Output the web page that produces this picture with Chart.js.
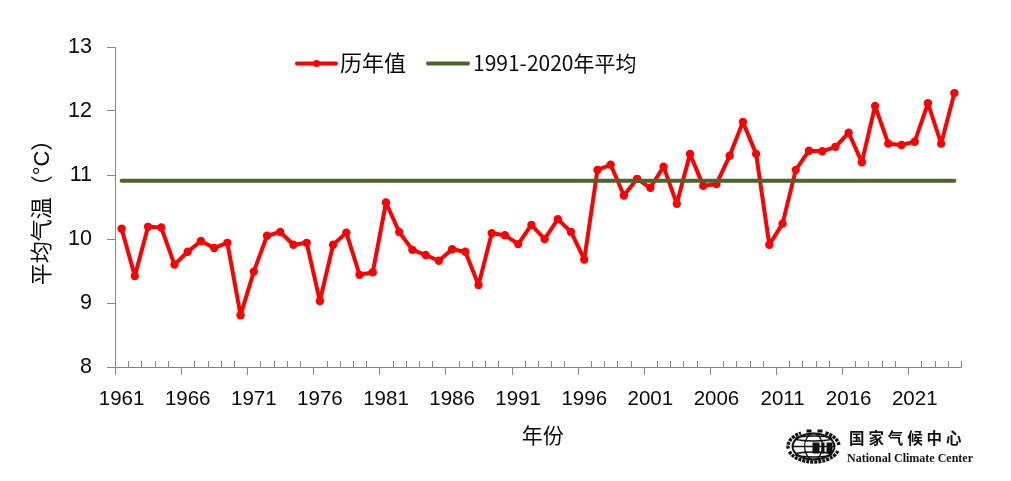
<!DOCTYPE html>
<html>
<head>
<meta charset="utf-8">
<style>
  html, body { margin: 0; padding: 0; background: #fff; }
  #wrap { position: relative; width: 1011px; height: 481px; }
</style>
<script src="https://cdn.jsdelivr.net/npm/chart.js@4/dist/chart.umd.min.js"></script>
</head>
<body>
<div id="wrap"><canvas id="myChart" width="1011" height="481"></canvas></div>
<script>
var years = [1961,1962,1963,1964,1965,1966,1967,1968,1969,1970,1971,1972,1973,1974,1975,1976,
  1977,1978,1979,1980,1981,1982,1983,1984,1985,1986,1987,1988,1989,1990,1991,1992,
  1993,1994,1995,1996,1997,1998,1999,2000,2001,2002,2003,2004,2005,2006,2007,2008,
  2009,2010,2011,2012,2013,2014,2015,2016,2017,2018,2019,2020,2021,2022,2023,2024];
var yearly = [10.16,9.42,10.19,10.18,9.60,9.80,9.97,9.86,9.94,8.81,9.49,10.05,10.11,9.91,9.94,9.03,
  9.91,10.10,9.44,9.48,10.57,10.11,9.83,9.75,9.66,9.84,9.80,9.28,10.09,10.06,9.92,10.22,
  10.00,10.31,10.11,9.68,11.08,11.16,10.68,10.94,10.80,11.13,10.55,11.33,10.83,10.86,11.30,11.83,
  11.33,9.91,10.24,11.08,11.38,11.37,11.44,11.66,11.20,12.08,11.49,11.47,11.52,12.12,11.49,12.28];
var meanValue = 10.91;
var labelYearly = "历年值";
var labelMean = "1991-2020年平均";
var labelX = "  年份";
var labelY = "平均气温（°C）";

var AXIS = "#868686";
var RED = "#ff0000";
var GREEN = "#4f6228";
var INK = "#0a0a0a";
var FONT = '"Liberation Sans", "Noto Sans CJK SC", sans-serif';
var CJK = '"Noto Sans CJK SC", sans-serif';

// short ticks above the axis between categories, long ones below every 5 years
var xTicks = {
  id: "xTicks",
  afterDatasetsDraw: function (chart) {
    var c = chart.ctx, x = chart.scales.x, y0 = chart.chartArea.bottom;
    var step = x.getPixelForValue(1) - x.getPixelForValue(0);
    c.save();
    c.strokeStyle = AXIS;
    c.lineWidth = 1;
    for (var i = 0; i <= years.length; i++) {
      var px = Math.round(x.getPixelForValue(0) + (i - 0.5) * step) + 0.5;
      c.beginPath();
      if (i % 5 === 0) {
        c.moveTo(px, y0);
        c.lineTo(px, y0 + 8);
      } else {
        c.moveTo(px, y0 - 6);
        c.lineTo(px, y0);
      }
      c.stroke();
    }
    c.restore();
  }
};

var keyLegend = {
  id: "keyLegend",
  afterDraw: function (chart) {
    var c = chart.ctx;
    c.save();
    c.lineCap = "round";
    c.lineWidth = 4;
    c.strokeStyle = RED;
    c.beginPath(); c.moveTo(297, 63.5); c.lineTo(336, 63.5); c.stroke();
    c.fillStyle = RED;
    c.beginPath(); c.arc(316.5, 63.5, 3.5, 0, Math.PI * 2); c.fill();
    c.strokeStyle = GREEN;
    c.beginPath(); c.moveTo(428, 63.5); c.lineTo(468, 63.5); c.stroke();
    c.fillStyle = INK;
    c.textBaseline = "middle";
    c.font = "22px " + CJK;
    c.fillText(labelYearly, 340, 63);
    c.font = "21px " + CJK;
    c.fillText(labelMean, 473, 63);
    c.restore();
  }
};

// national climate center mark, bottom right
var centerMark = {
  id: "centerMark",
  afterDraw: function (chart) {
    var c = chart.ctx, cx = 813.5, cy = 446.5;
    c.save();
    c.strokeStyle = "#111";
    c.fillStyle = "#111";
    c.lineWidth = 2;
    c.beginPath(); c.ellipse(cx, cy, 21, 13, 0, 0, Math.PI * 2); c.stroke();
    c.lineWidth = 1.3;
    c.beginPath(); c.ellipse(cx, cy, 9, 13, 0, 0, Math.PI * 2); c.stroke();
    c.beginPath(); c.moveTo(cx - 21, cy); c.lineTo(cx + 21, cy); c.stroke();
    c.beginPath(); c.ellipse(cx, cy - 8, 18, 2.5, 0, 0, Math.PI * 2); c.stroke();
    c.beginPath(); c.ellipse(cx, cy + 8, 18, 2.5, 0, 0, Math.PI * 2); c.stroke();
    c.lineWidth = 3.4;
    c.setLineDash([3, 1]);
    c.beginPath(); c.ellipse(cx, cy, 25.5, 15.5, 0, 0.3, 2.85); c.stroke();
    c.beginPath(); c.ellipse(cx, cy, 25.5, 15.5, 0, 3.0, 4.2); c.stroke();
    c.beginPath(); c.ellipse(cx, cy, 25.5, 15.5, 0, 5.2, 6.2); c.stroke();
    c.setLineDash([]);
    c.fillRect(cx - 1, cy - 4, 7, 11);
    c.fillRect(cx + 8, cy - 4, 3, 11);
    c.fillRect(cx + 13, cy - 4, 6, 11);
    c.fillRect(cx - 7, cy - 17, 5, 3);
    c.fillRect(cx + 4, cy - 17, 5, 3);
    c.font = "bold 15.5px " + CJK;
    c.textBaseline = "middle";
    ["国", "家", "气", "候", "中", "心"].forEach(function (ch, i) {
      c.fillText(ch, 849 + i * 19.4, 438);
    });
    c.font = 'bold 12px "Liberation Serif", serif';
    c.fillText("National Climate Center", 847, 459);
    c.restore();
  }
};

new Chart(document.getElementById("myChart").getContext("2d"), {
  type: "line",
  data: {
    labels: years,
    datasets: [
      {
        label: labelYearly,
        data: yearly,
        borderColor: RED,
        backgroundColor: RED,
        borderWidth: 4,
        borderJoinStyle: "round",
        pointRadius: 4.2,
        pointBackgroundColor: RED,
        pointBorderWidth: 0,
        tension: 0,
        order: 2
      },
      {
        label: labelMean,
        data: years.map(function () { return meanValue; }),
        borderColor: GREEN,
        borderWidth: 4,
        borderCapStyle: "round",
        pointRadius: 0,
        tension: 0,
        order: 1
      }
    ]
  },
  options: {
    responsive: false,
    animation: false,
    layout: { padding: { top: 47, right: 50, left: 0, bottom: 0 } },
    plugins: { legend: { display: false }, tooltip: { enabled: false } },
    scales: {
      x: {
        type: "category",
        offset: true,
        grid: { display: false, drawTicks: false, offset: true },
        border: { color: AXIS, width: 1 },
        ticks: {
          autoSkip: false,
          maxRotation: 0,
          padding: 20,
          color: INK,
          font: { family: FONT, size: 20.5 },
          callback: function (v, i) { return i % 5 === 0 ? years[i] : ""; }
        },
        title: {
          display: true,
          text: labelX,
          color: INK,
          font: { family: CJK, size: 21 },
          padding: { top: 0, bottom: 33 }
        },
        afterFit: function (s) { s.height = 114; s.paddingLeft = 0; s.paddingRight = 0; }
      },
      y: {
        min: 8,
        max: 13,
        grid: { drawOnChartArea: false, drawTicks: true, tickLength: 8, tickColor: AXIS },
        border: { color: AXIS, width: 1 },
        ticks: {
          stepSize: 1,
          padding: 15,
          color: INK,
          font: { family: FONT, size: 21.5 }
        },
        title: {
          display: true,
          text: labelY,
          color: INK,
          font: { family: FONT, size: 22 },
          padding: { top: 30, bottom: 0 }
        },
        afterFit: function (s) { s.width = 115; s.paddingTop = 0; s.paddingBottom = 0; }
      }
    }
  },
  plugins: [xTicks, keyLegend, centerMark]
});
</script>
</body>
</html>
